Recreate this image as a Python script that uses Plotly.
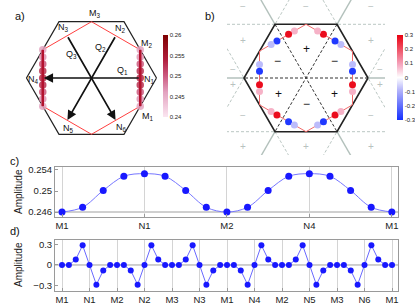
import numpy as np
import plotly.graph_objects as go

W, H = 415, 308

# ---------------- data ----------------
c_ticks = ["M1", "N1", "M2", "N4", "M1"]
c_amp = [0.2460, 0.2469, 0.2501, 0.2528, 0.2533, 0.2528, 0.2501, 0.2469, 0.2460,
         0.2469, 0.2501, 0.2528, 0.2533, 0.2528, 0.2501, 0.2469, 0.2460]

d_ticks = ["M1", "N1", "M2", "N2", "M3", "N3", "M1", "N4", "M2", "N5", "M3", "N6", "M1"]
d_amp = [0, 0, 0.08, 0.285, 0, -0.285, -0.08, 0,
         0, 0, -0.08, -0.285, 0, 0.285, 0.08, 0,
         0, 0, 0.08, 0.285, 0, -0.285, -0.08, 0,
         0, 0, -0.08, -0.285, 0, 0.285, 0.08, 0,
         0, 0, 0.08, 0.285, 0, -0.285, -0.08, 0,
         0, 0, -0.08, -0.285, 0, 0.285, 0.08, 0,
         0]

a_labels = ["M<sub>3</sub>", "N<sub>3</sub>", "N<sub>2</sub>", "M<sub>2</sub>", "Q<sub>2</sub>",
            "Q<sub>3</sub>", "Q<sub>1</sub>", "N<sub>1</sub>", "N<sub>4</sub>", "M<sub>1</sub>",
            "N<sub>5</sub>", "N<sub>6</sub>"]
a_cbar_vals = [0.24, 0.245, 0.25, 0.255, 0.26]
a_cbar_text = ["0.24", "0.245", "0.25", "0.255", "0.26"]
b_cbar_vals = [-0.3, -0.2, -0.1, 0, 0.1, 0.2, 0.3]
b_cbar_text = ["-0.3", "-0.2", "-0.1", "0", "0.1", "0.2", "0.3"]
b_inner_signs = ["+", "\u2212", "\u2212", "+", "+", "\u2212"]
b_outer_signs = ["\u2212", "+", "\u2212", "+", "\u2212", "+",
                 "\u2212", "+", "\u2212", "+", "\u2212", "+",
                 "\u2212", "+"]
panel_labels = ["a)", "b)", "c)", "d)"]

# ---------------- geometry ----------------
s3 = np.sqrt(3)
hexv = np.array([(np.cos(np.pi / 3 * k), np.sin(np.pi / 3 * k)) for k in range(7)])
mloop = np.array([(s3 / 2 * np.cos(-np.pi / 6 + np.pi / 3 * k),
                   s3 / 2 * np.sin(-np.pi / 6 + np.pi / 3 * k)) for k in range(7)])
path = []
for k in range(6):
    path.append(mloop[k])
    path.append((mloop[k] + mloop[k + 1]) / 2)
path.append(mloop[6])
path = np.array(path)


def path_pos(i, nper=4):
    seg = min(i // nper, len(path) - 2)
    f = (i - seg * nper) / nper
    return path[seg] + f * (path[seg + 1] - path[seg])


def PX(x):
    return x / W


def PY(y):
    return 1 - y / H


FONT = "Liberation Sans, Arial, Helvetica, sans-serif"
GREY = "#b3c1bc"
fig = go.Figure()

# ---------------- panel a ----------------
fig.add_trace(go.Scatter(x=hexv[:, 0], y=hexv[:, 1], mode="lines",
                         line=dict(color="#222222", width=1.2), xaxis="x", yaxis="y",
                         hoverinfo="skip", showlegend=False))
fig.add_trace(go.Scatter(x=mloop[:, 0], y=mloop[:, 1], mode="lines",
                         line=dict(color="#ff4040", width=1), xaxis="x", yaxis="y",
                         hoverinfo="skip", showlegend=False))
ra = [path[0] + j / 8 * (path[2] - path[0]) for j in range(9)]
la = [path[6] + j / 8 * (path[8] - path[6]) for j in range(9)]
for pts, vals in ((ra, c_amp[0:9]), (la, c_amp[8:17])):
    pts = np.array(pts)
    fig.add_trace(go.Scatter(x=pts[:, 0], y=pts[:, 1], mode="markers",
                             marker=dict(size=7.5, color=vals, coloraxis="coloraxis",
                                         line=dict(width=0), opacity=0.85),
                             xaxis="x", yaxis="y", hoverinfo="skip", showlegend=False))
    fig.add_trace(go.Scatter(x=pts[:, 0], y=pts[:, 1], mode="lines",
                             line=dict(color="#b3122e", width=2.5),
                             xaxis="x", yaxis="y", hoverinfo="skip", showlegend=False))

# ---------------- panel b ----------------
for k in range(6):
    v = hexv[k]
    fig.add_trace(go.Scatter(x=[v[0], 2.2 * v[0]], y=[v[1], 2.2 * v[1]], mode="lines",
                             line=dict(color=GREY, width=1.4), xaxis="x2", yaxis="y2",
                             hoverinfo="skip", showlegend=False))
    a, b = hexv[k], hexv[k + 1]
    d = b - a
    for p0, p1 in ((a - 2 * d, a), (b, b + 2 * d)):
        fig.add_trace(go.Scatter(x=[p0[0], p1[0]], y=[p0[1], p1[1]], mode="lines",
                                 line=dict(color=GREY, width=0.9, dash="3px,2px"),
                                 xaxis="x2", yaxis="y2", hoverinfo="skip", showlegend=False))
for k in range(3):
    a, b = hexv[k], hexv[k + 3]
    fig.add_trace(go.Scatter(x=[a[0], b[0]], y=[a[1], b[1]], mode="lines",
                             line=dict(color="#333333", width=1, dash="3px,2px"),
                             xaxis="x2", yaxis="y2", hoverinfo="skip", showlegend=False))
fig.add_trace(go.Scatter(x=hexv[:, 0], y=hexv[:, 1], mode="lines",
                         line=dict(color="#222222", width=1.6), xaxis="x2", yaxis="y2",
                         hoverinfo="skip", showlegend=False))
fig.add_trace(go.Scatter(x=mloop[:, 0], y=mloop[:, 1], mode="lines",
                         line=dict(color="#f26a6a", width=1), xaxis="x2", yaxis="y2",
                         hoverinfo="skip", showlegend=False))
bx, by, bv = [], [], []
for i, v in enumerate(d_amp):
    if v != 0:
        p = path_pos(i)
        bx.append(p[0]); by.append(p[1]); bv.append(v)
fig.add_trace(go.Scatter(x=bx, y=by, mode="markers",
                         marker=dict(size=7, color=bv, coloraxis="coloraxis2", line=dict(width=0)),
                         xaxis="x2", yaxis="y2", hoverinfo="skip", showlegend=False))

# ---------------- panel c ----------------
xc = list(range(len(c_amp)))
fig.add_trace(go.Scatter(x=xc, y=c_amp, mode="lines+markers",
                         line=dict(color="#7676ff", width=1, shape="spline"),
                         marker=dict(size=7, color="#1818ff"),
                         xaxis="x3", yaxis="y3", hoverinfo="skip", showlegend=False))

# ---------------- panel d ----------------
xd = list(range(len(d_amp)))
fig.add_trace(go.Scatter(x=xd, y=d_amp, mode="lines+markers",
                         line=dict(color="#6a6aff", width=1),
                         marker=dict(size=6, color="#1818ff"),
                         xaxis="x4", yaxis="y4", hoverinfo="skip", showlegend=False))

# ---------------- annotations ----------------
ann = []
a_lab_px = [(95, 13), (63, 27), (120, 29), (147, 43), (100, 47), (71, 54), (122, 70),
            (149, 79), (33, 80), (148, 116), (68, 128), (121, 127)]
for t, (x, y) in zip(a_labels, a_lab_px):
    ann.append(dict(x=PX(x), y=PY(y), xref="paper", yref="paper", text=t, showarrow=False,
                    font=dict(size=9, color="#111"), xanchor="center", yanchor="middle"))
arrows = [((-0.735, 0.0), (0.75, 0.0)),
          ((-0.37, -0.645), (0.375, 0.65)),
          ((0.37, -0.645), (-0.375, 0.65))]
for (hx, hy), (tx, ty) in arrows:
    ann.append(dict(x=hx, y=hy, ax=tx, ay=ty, xref="x", yref="y", axref="x", ayref="y",
                    text="", showarrow=True, arrowhead=2, arrowsize=1.1, arrowwidth=1.7,
                    arrowcolor="#111"))
inner_pos = [(0, 0.46), (-0.46, 0.27), (0.46, 0.27), (-0.45, -0.25), (0.46, -0.25), (0, -0.42)]
for s, (x, y) in zip(b_inner_signs, inner_pos):
    ann.append(dict(x=x, y=y, xref="x2", yref="y2", text=s, showarrow=False,
                    font=dict(size=12, color="#111")))
outer_pos = [(-1.02, 1.15), (-1.02, 0.61), (-1.17, 0.14), (-1.17, -0.11), (-1.02, -0.6), (-1.02, -1.11),
             (1.05, 1.15), (1.05, 0.61), (1.2, 0.14), (1.2, -0.11), (1.05, -0.6), (1.05, -1.11),
             (0, 1.15), (0, -1.11)]
for s, (x, y) in zip(b_outer_signs, outer_pos):
    ann.append(dict(x=x, y=y, xref="x2", yref="y2", text=s, showarrow=False,
                    font=dict(size=10, color="#b8c2c0")))
for t, (x, y) in zip(panel_labels, [(13, 8), (210, 8), (8, 161), (8, 239)]):
    ann.append(dict(x=PX(x), y=PY(y), xref="paper", yref="paper", text=t, showarrow=False,
                    font=dict(size=11, color="#111")))
for yc in (192, 265):
    ann.append(dict(x=PX(18), y=PY(yc), xref="paper", yref="paper", text="Amplitude",
                    textangle=-90, showarrow=False, xanchor="center", yanchor="middle",
                    font=dict(size=10, color="#222")))

shapes = [
    dict(type="line", xref="x3 domain", yref="y3", x0=0, x1=1, y0=0.246, y1=0.246,
         line=dict(color="#a0a0a0", width=1), layer="below"),
    dict(type="line", xref="x4 domain", yref="y4", x0=0, x1=1, y0=0, y1=0,
         line=dict(color="#a0a0a0", width=1), layer="below"),
]

hidden = dict(visible=False, showgrid=False, zeroline=False, fixedrange=True)
frame = dict(showline=True, mirror=True, linecolor="#9a9a9a", linewidth=1, zeroline=False,
             ticks="inside", ticklen=3, tickcolor="#9a9a9a",
             tickfont=dict(size=9.5, color="#222"))

fig.update_layout(
    width=W, height=H, margin=dict(l=0, r=0, t=0, b=0, autoexpand=False),
    paper_bgcolor="white", plot_bgcolor="white",
    font=dict(family=FONT),
    xaxis=dict(domain=[0, PX(190)], range=[-91.5 / 65, 98.5 / 65], anchor="y", **hidden),
    yaxis=dict(domain=[PY(155), 1], range=[-77 / 65, 78 / 65], anchor="x", **hidden),
    xaxis2=dict(domain=[PX(227), PX(385)], range=[-79 / 62, 79 / 62], anchor="y2", **hidden),
    yaxis2=dict(domain=[PY(155), 1], range=[-77 / 62, 78 / 62], anchor="x2", **hidden),
    xaxis3=dict(domain=[PX(55), PX(398)], range=[-0.34, 16.3], anchor="y3",
                tickvals=[0, 4, 8, 12, 16], ticktext=c_ticks, showgrid=True,
                gridcolor="#d4d4d4", gridwidth=1, **frame),
    yaxis3=dict(domain=[PY(217), PY(167)], range=[0.24505, 0.25457], anchor="x3",
                tickvals=[0.246, 0.25, 0.254], ticktext=["0.246", "0.25", "0.254"],
                showgrid=False, **frame),
    xaxis4=dict(domain=[PX(55), PX(398)], range=[-1.02, 48.87], anchor="y4",
                tickvals=list(range(0, 49, 4)), ticktext=d_ticks, showgrid=True,
                gridcolor="#d4d4d4", gridwidth=1, **frame),
    yaxis4=dict(domain=[PY(291), PY(240)], range=[-0.377, 0.362], anchor="x4",
                tickvals=[-0.3, 0, 0.3], ticktext=["\u22120.3", "0", "0.3"],
                showgrid=False, **frame),
    coloraxis=dict(cmin=0.24, cmax=0.26,
                   colorscale=[[0, "#fbe6f1"], [0.3, "#e3a3c0"], [0.5, "#cc5a80"],
                               [0.7, "#b01e3c"], [1, "#7e0000"]],
                   colorbar=dict(x=PX(163), xanchor="left", y=PY(35), yanchor="top",
                                 len=82 / H, lenmode="fraction", thickness=5,
                                 thicknessmode="pixels", outlinewidth=0, xpad=0, ypad=0,
                                 tickvals=a_cbar_vals, ticktext=a_cbar_text, ticks="",
                                 tickfont=dict(size=6, color="#222"))),
    coloraxis2=dict(cmin=-0.3, cmax=0.3,
                    colorscale=[[0, "#1530ff"], [0.35, "#b4b4fa"], [0.5, "#ffffff"],
                                [0.65, "#f5a8c0"], [1, "#ea0010"]],
                    colorbar=dict(x=PX(397), xanchor="left", y=PY(35), yanchor="top",
                                  len=85 / H, lenmode="fraction", thickness=6,
                                  thicknessmode="pixels", outlinewidth=0, xpad=0, ypad=0,
                                  tickvals=b_cbar_vals, ticktext=b_cbar_text, ticks="",
                                  tickfont=dict(size=6, color="#222"))),
    annotations=ann, shapes=shapes,
)

fig.write_html("out.html", config={"displayModeBar": False},
               post_script="document.body.style.margin='0';document.body.style.overflow='hidden';")
